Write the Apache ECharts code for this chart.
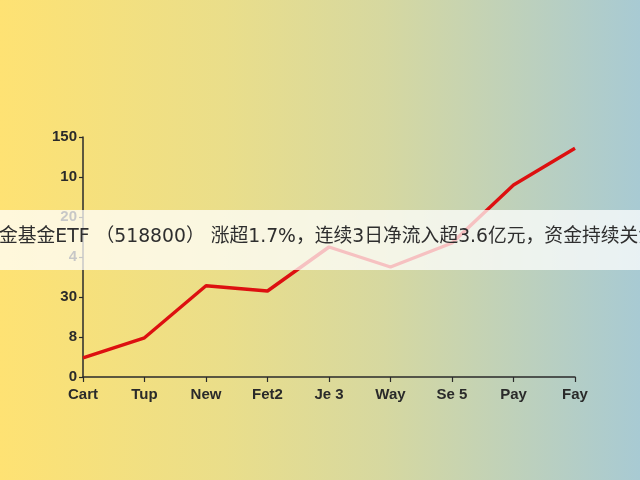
<!DOCTYPE html>
<html>
<head>
<meta charset="utf-8">
<script src="https://cdn.jsdelivr.net/npm/echarts@6/dist/echarts.min.js"></script>
<style>html,body{margin:0;padding:0;}#c{width:640px;height:480px;}</style>
</head>
<body>
<div id="c"></div>
<script>
var categories = ['Cart', 'Tup', 'New', 'Fet2', 'Je 3', 'Way', 'Se 5', 'Pay', 'Fay'];
var values = [0.48, 0.98, 2.28, 2.15, 3.25, 2.75, 3.35, 4.8, 5.72];
var yTickLabels = ['0', '8', '30', '4', '20', '10', '150'];
var bannerText = '金基金ETF （518800） 涨超1.7%，连续3日净流入超3.6亿元，资金持续关注';

var chart = echarts.init(document.getElementById('c'), null, {renderer: 'canvas'});
chart.setOption({
  animation: false,
  backgroundColor: {
    type: 'linear', x: 0, y: 0, x2: 1, y2: 0,
    colorStops: [
      {offset: 0, color: '#FEE273'},
      {offset: 0.35, color: '#EADE8A'},
      {offset: 0.6, color: '#D6D8A0'},
      {offset: 1, color: '#A8CAD3'}
    ]
  },
  grid: {left: 83, right: 65, top: 137, bottom: 103, containLabel: false, outerBoundsMode: 'none'},
  xAxis: {
    type: 'category',
    data: categories,
    boundaryGap: false,
    axisLine: {lineStyle: {color: '#2a2a2a', width: 1.5}},
    axisTick: {show: true, length: 5, lineStyle: {color: '#2a2a2a', width: 1.2}},
    axisLabel: {color: '#2a2a2a', fontSize: 15, fontWeight: 'bold', fontFamily: 'Liberation Sans, Arial, sans-serif', margin: 10}
  },
  yAxis: {
    type: 'value',
    min: 0, max: 6, interval: 1,
    splitLine: {show: false},
    axisLine: {show: true, lineStyle: {color: '#2a2a2a', width: 1.5}},
    axisTick: {show: true, length: 4, lineStyle: {color: '#2a2a2a', width: 1.2}},
    axisLabel: {
      color: '#2a2a2a', fontSize: 15, fontWeight: 'bold', fontFamily: 'Liberation Sans, Arial, sans-serif', margin: 6,
      formatter: function (v) { return yTickLabels[Math.round(v)]; }
    }
  },
  series: [{
    type: 'line',
    data: values,
    symbol: 'none',
    lineStyle: {color: '#DD1010', width: 3.4},
    z: 2
  }],
  graphic: [
    {
      type: 'rect', z: 100,
      shape: {x: 0, y: 210, width: 640, height: 60},
      style: {fill: 'rgba(255,255,255,0.74)'}
    },
    {
      type: 'text', z: 101,
      x: -1, y: 237,
      style: {
        text: bannerText,
        fill: '#2e2e2e',
        fontSize: 18.8,
        fontFamily: '"DejaVu Sans", "Noto Sans CJK SC", sans-serif',
        verticalAlign: 'middle'
      }
    }
  ]
});
</script>
</body>
</html>
